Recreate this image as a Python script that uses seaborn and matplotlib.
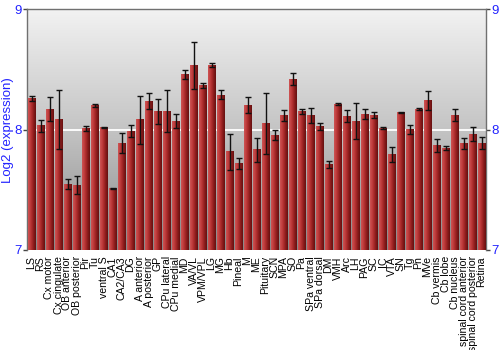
import numpy as np
import pandas as pd
import matplotlib
matplotlib.use("Agg")
import matplotlib.pyplot as plt
import seaborn as sns
from matplotlib.colors import LinearSegmentedColormap

regions = ["LS", "RS", "Cx motor", "Cx cingulate", "OB anterior", "OB posterior", "Pir", "Tu",
           "ventral S", "CA1", "CA2/CA3", "DG", "A anterior", "A posterior", "GP", "CPu lateral",
           "CPu medial", "MD", "VA/VL", "VPM/VPL", "LG", "MG", "Hb", "Pineal", "M", "ME",
           "Pituitary", "SCN", "MPA", "SO", "Pa", "SPa ventral", "SPa dorsal", "DM", "VMH", "Arc",
           "LH", "PAG", "SC", "IC", "VTA", "SN", "Tg", "Pn", "MVe", "Cb vermis", "Cb lobe",
           "Cb nucleus", "spinal cord anterior", "spinal cord posterior", "Retina"]
expression = [8.258, 8.033, 8.172, 8.086, 7.547, 7.540, 8.008, 8.200,
              8.017, 7.511, 7.889, 7.986, 8.083, 8.239, 8.153, 8.156,
              8.072, 8.458, 8.533, 8.367, 8.536, 8.289, 7.817, 7.717, 8.203, 7.833,
              8.050, 7.953, 8.117, 8.422, 8.150, 8.119, 8.025, 7.708, 8.211, 8.114,
              8.072, 8.131, 8.119, 8.014, 7.792, 8.142, 8.000, 8.172, 8.244, 7.867, 7.847,
              8.122, 7.883, 7.961, 7.886]
error = [0.022, 0.049, 0.096, 0.247, 0.040, 0.072, 0.020, 0.015,
         0.005, 0.005, 0.086, 0.049, 0.199, 0.067, 0.104, 0.172,
         0.060, 0.040, 0.196, 0.020, 0.018, 0.038, 0.150, 0.044, 0.065, 0.099,
         0.253, 0.042, 0.044, 0.049, 0.020, 0.062, 0.028, 0.029, 0.008, 0.050,
         0.150, 0.039, 0.025, 0.008, 0.062, 0.007, 0.036, 0.012, 0.078, 0.054, 0.020,
         0.047, 0.047, 0.058, 0.049]
yticks = [7, 8, 9]

df = pd.DataFrame({"region": regions, "expression": expression, "error": error})

sns.set_style("white")
plt.rcParams['font.family'] = ['Liberation Sans', 'DejaVu Sans']

fig = plt.figure(figsize=(5, 3.5), dpi=100)
ax = fig.add_axes([0.054, 0.286, 0.918, 0.687])

YMIN, YMAX = 7, 9
n = len(regions)

sns.barplot(data=df, x="region", y="expression", order=regions, color="#b03030",
            width=0.86, errorbar=None, ax=ax, zorder=3, edgecolor="none")

# background gradient (light at top, darker at bottom)
bg = LinearSegmentedColormap.from_list("bg", ["#f2f2f2", "#c4c4c4", "#888888"])
grad = np.linspace(0, 1, 256).reshape(-1, 1)
ax.imshow(grad, cmap=bg, aspect="auto", origin="upper",
          extent=[-0.5, n - 0.5, YMIN, YMAX], zorder=0, interpolation="bicubic")

# horizontal gradient over each bar
barcm = LinearSegmentedColormap.from_list("bar", ["#cf5656", "#bc3838", "#931e1e", "#620f0f"])
hgrad = np.linspace(0, 1, 64).reshape(1, -1)
for p in ax.patches:
    x0, w = p.get_x(), p.get_width()
    top = p.get_y() + p.get_height()
    ax.imshow(hgrad, cmap=barcm, aspect="auto",
              extent=[x0, x0 + w, YMIN, top], zorder=4, interpolation="bicubic")

ax.set_xlim(-0.5, n - 0.5)
ax.set_ylim(YMIN, YMAX)

ax.errorbar(np.arange(n), df["expression"], yerr=df["error"], fmt="none",
            ecolor="#111111", elinewidth=1.0, capsize=2.2, capthick=1.0, zorder=6)

ax.axhline(8, color="white", lw=1.3, zorder=2)

ax.set_yticks(yticks)
ax.set_yticklabels([str(t) for t in yticks])
ax.tick_params(axis="y", which="both", left=True, right=True, labelleft=True, labelright=True,
               direction="out", length=3, width=1, color="#444444", labelcolor="#2222ff",
               labelsize=9.5, pad=1)
ax.tick_params(axis="x", bottom=False, labelsize=7.6, pad=1, labelcolor="black")
plt.setp(ax.get_xticklabels(), rotation=90)

ax.set_xlabel("")
ax.set_ylabel("Log2 (expression)", color="#2222ff", fontsize=9.5, labelpad=0)

for s in ["top", "left", "right"]:
    ax.spines[s].set_color("#707070")
    ax.spines[s].set_linewidth(1)
    ax.spines[s].set_visible(True)
ax.spines["bottom"].set_visible(False)

fig.savefig("out.png", dpi=100)
